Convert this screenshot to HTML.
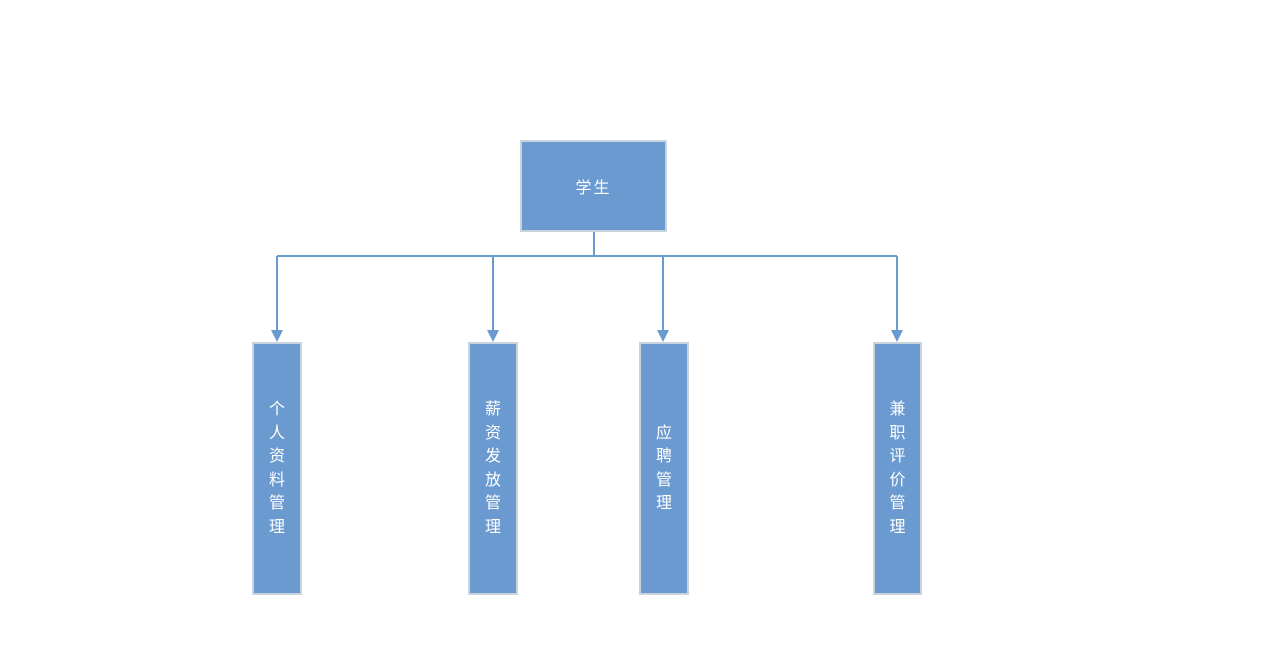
<!DOCTYPE html>
<html><head><meta charset="utf-8"><style>
body{margin:0;width:1280px;height:647px;background:#fff;position:relative;overflow:hidden;font-family:"Liberation Sans","Noto Sans CJK SC",sans-serif}
.b{position:absolute;background:#6a9acf;border:2px solid #c9d3de;box-sizing:border-box;color:#fff;display:flex;align-items:center;justify-content:center;font-size:16px}
.v{flex-direction:column;line-height:23.5px;text-align:center}
</style></head><body>
<svg width="1280" height="647" style="position:absolute;left:0;top:0">
<g stroke="#6a9acf" stroke-width="2" fill="none">
<line x1="594" y1="232" x2="594" y2="256"/>
<line x1="277" y1="256" x2="897" y2="256"/>
<line x1="277" y1="256" x2="277" y2="332"/>
<line x1="493" y1="256" x2="493" y2="332"/>
<line x1="663" y1="256" x2="663" y2="332"/>
<line x1="897" y1="256" x2="897" y2="332"/>
</g>
<g fill="#6a9acf">
<polygon points="271,330 283,330 277,342"/>
<polygon points="487,330 499,330 493,342"/>
<polygon points="657,330 669,330 663,342"/>
<polygon points="891,330 903,330 897,342"/>
</g>
</svg>
<div class="b" style="left:520px;top:140px;width:147px;height:92px;letter-spacing:2px">学生</div>
<div class="b v" style="left:252px;top:342px;width:50px;height:253px">个<br>人<br>资<br>料<br>管<br>理</div>
<div class="b v" style="left:468px;top:342px;width:50px;height:253px">薪<br>资<br>发<br>放<br>管<br>理</div>
<div class="b v" style="left:639px;top:342px;width:50px;height:253px">应<br>聘<br>管<br>理</div>
<div class="b v" style="left:873px;top:342px;width:49px;height:253px">兼<br>职<br>评<br>价<br>管<br>理</div>
</body></html>
